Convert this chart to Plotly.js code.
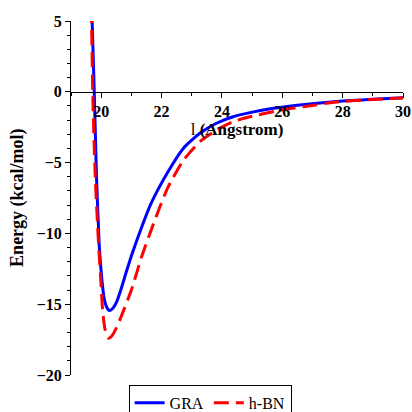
<!DOCTYPE html>
<html>
<head>
<meta charset="utf-8">
<script src="https://cdn.plot.ly/plotly-3.0.1.min.js"></script>
<style>html,body{margin:0;padding:0;background:#fff;}#chart{width:412px;height:412px;}</style>
</head>
<body>
<div id="chart"></div>
<script>
// GRA (graphene) interaction energy
const graX = [19.66, 19.70, 19.74, 19.77, 19.81, 19.85, 19.90, 19.94, 20.03, 20.10, 20.18, 20.27, 20.38, 20.50, 20.65, 20.82, 21.00, 21.23, 21.65, 22.20, 22.72, 23.27, 23.82, 24.37, 24.93, 25.60, 26.50, 27.80, 29.00, 30.00];
const graY = [9.0, 5.0, 2.2, 0.0, -3.2, -6.3, -9.0, -11.0, -13.4, -14.6, -15.2, -15.45, -15.3, -14.9, -14.0, -12.8, -11.6, -10.2, -7.9, -5.7, -4.0, -2.93, -2.22, -1.76, -1.47, -1.2, -0.95, -0.68, -0.52, -0.42];
// h-BN interaction energy
const bnX = [19.64, 19.68, 19.72, 19.76, 19.81, 19.87, 19.92, 19.99, 20.05, 20.12, 20.18, 20.25, 20.35, 20.45, 20.60, 20.75, 21.00, 21.34, 21.78, 22.20, 22.72, 23.27, 23.82, 24.37, 24.93, 25.87, 26.70, 27.80, 29.00, 30.00];
const bnY = [9.0, 5.0, 0.0, -3.2, -6.35, -9.0, -11.0, -13.4, -15.5, -16.7, -17.2, -17.4, -17.25, -16.9, -16.2, -15.4, -14.0, -11.65, -9.05, -6.8, -4.85, -3.52, -2.7, -2.11, -1.76, -1.33, -1.05, -0.72, -0.54, -0.43];
const seriesNames = ["GRA", "h-BN"];
const xTicks = [20, 22, 24, 26, 28, 30];
const yTicks = [-20, -15, -10, -5, 0, 5];

const serif = "Liberation Serif";
const bold = v => "<b>" + String(v).replace("-", "\u2212") + "</b>";
const traces = [
  {x: graX, y: graY, name: seriesNames[0], type: "scatter", mode: "lines",
   line: {color: "#0000ff", width: 3, shape: "spline", smoothing: 0.6}},
  {x: bnX, y: bnY, name: seriesNames[1], type: "scatter", mode: "lines",
   line: {color: "#ff0000", width: 3, dash: "15px,7px", shape: "spline", smoothing: 0.6}}
];
const layout = {
  width: 412, height: 412,
  paper_bgcolor: "#fff", plot_bgcolor: "#fff",
  font: {family: serif, color: "#000"},
  margin: {l: 71, r: 9, t: 21, b: 37, autoexpand: false},
  showlegend: true,
  legend: {orientation: "h", x: 0.419, xanchor: "center", y: -0.028, yanchor: "top",
    bordercolor: "#000", borderwidth: 1, bgcolor: "#fff",
    font: {family: serif, size: 16, color: "#000"}},
  xaxis: {range: [19, 30], anchor: "free", position: 0.8,
    showline: true, linecolor: "#000", linewidth: 1, showgrid: false, zeroline: false,
    ticks: "outside", ticklen: 5, tickcolor: "#000",
    tickvals: xTicks, ticktext: xTicks.map(bold),
    minor: {dtick: 1, tick0: 19, ticks: "outside", ticklen: 3, tickcolor: "#000", showgrid: false},
    tickfont: {family: serif, size: 16, color: "#000"},
    title: {text: 'l <b>(Angstrom)</b>', standoff: 2,
      font: {family: serif, size: 17, color: "#000"}}},
  yaxis: {range: [-20, 5], showline: true, linecolor: "#000", linewidth: 1,
    showgrid: false, zeroline: false, ticks: "outside", ticklen: 5, tickcolor: "#000",
    tickvals: yTicks, ticktext: yTicks.map(bold),
    minor: {dtick: 1, ticks: "outside", ticklen: 3, tickcolor: "#000", showgrid: false},
    tickfont: {family: serif, size: 16, color: "#000"}},
  annotations: [{text: "<b>Energy (kcal/mol)</b>", textangle: -90, showarrow: false,
    xref: "paper", yref: "paper", x: -0.163, y: 0.5, xanchor: "center", yanchor: "middle",
    font: {family: serif, size: 18, color: "#000"}}]
};
Plotly.newPlot("chart", traces, layout, {displayModeBar: false, staticPlot: true});
</script>
</body>
</html>
